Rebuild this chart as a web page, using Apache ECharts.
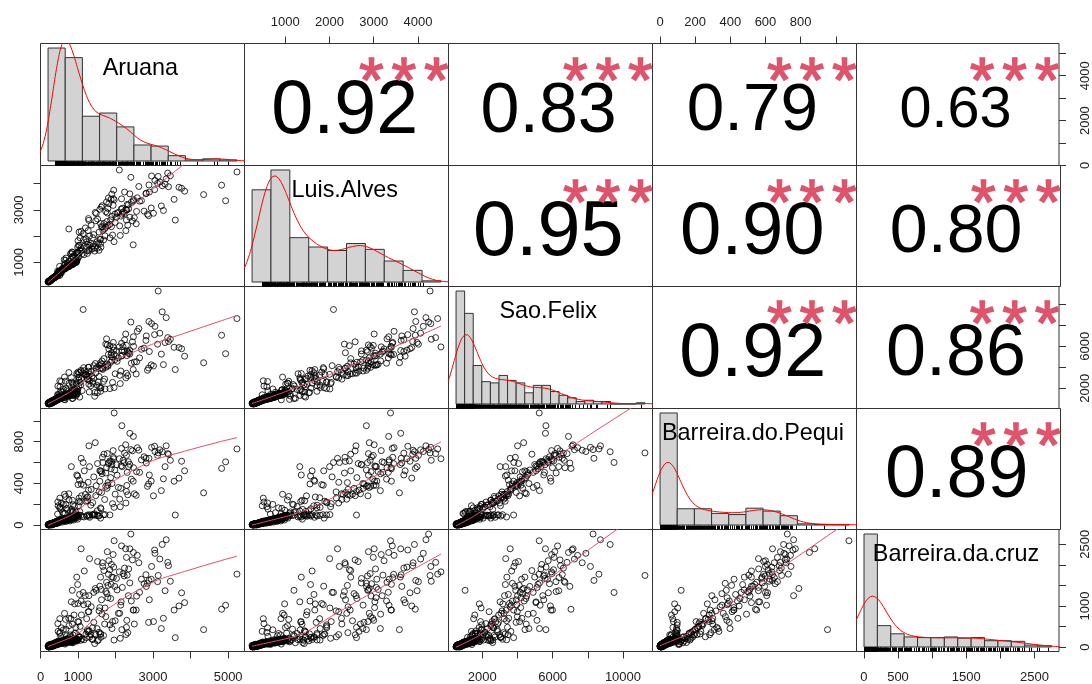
<!DOCTYPE html>
<html>
<head>
<meta charset="utf-8">
<title>Correlation matrix</title>
<script src="https://cdn.jsdelivr.net/npm/echarts@6.0.0/dist/echarts.min.js"></script>
<style>
html, body { margin: 0; padding: 0; background: #ffffff; }
#chart { width: 1092px; height: 684px; }
</style>
</head>
<body>
<div id="chart"></div>
<script>
// Station names, in matrix order
const stationNames = ['Aruana', 'Luis.Alves', 'Sao.Felix', 'Barreira.do.Pequi', 'Barreira.da.cruz'];

// Paired records: one value per station for each record (same index = same record)
const aruana = [
  201, 218, 206, 222, 209, 243, 226, 213, 251, 247,
  256, 230, 260, 252, 281, 265, 240, 289, 277, 285,
  268, 298, 291, 319, 303, 279, 327, 315, 323, 335,
  339, 330, 356, 344, 318, 365, 352, 360, 373, 348,
  368, 394, 378, 356, 403, 390, 398, 411, 386, 415,
  432, 416, 402, 440, 428, 436, 449, 424, 453, 445,
  456, 440, 478, 466, 474, 487, 461, 491, 483, 534,
  479, 546, 518, 527, 568, 495, 580, 552, 637, 586,
  648, 620, 630, 671, 603, 682, 655, 739, 688, 643,
  723, 732, 774, 701, 785, 757, 842, 791, 746, 865,
  831, 876, 808, 888, 858, 945, 894, 848, 967, 940,
  979, 910, 990, 961, 1300, 996, 951, 1450, 1290, 1310,
  1075, 1600, 1375, 1850, 1540, 1160, 1720, 1250,
  455, 654, 470, 630, 520, 846, 510, 462, 860, 702,
  798, 558, 1445, 678, 515, 1045, 870, 835, 1515, 668,
  852, 640, 1600, 1250, 1010, 1960, 822, 1056, 966, 2125,
  1262, 1210, 1920, 990, 1028, 1167, 2275, 1306, 1083, 755,
  1000, 1195, 1150, 2110, 1083, 1290, 2325, 1660, 1625, 2550,
  1473, 1650, 1460, 2290, 1800, 1770, 1278, 1620, 2880, 1740,
  2850, 2470, 1905, 1485, 1760, 3275, 1880, 1795, 1980, 1810,
  2950, 1900, 1640, 2025, 3591, 2150, 1950, 2500, 2350, 2310,
  2200, 2075, 2340, 1780, 4347, 1820, 2480, 2300, 1935, 2900,
  2270, 3220, 1940, 2820, 1136, 2475, 2100, 2168, 3690, 3040,
  2890, 3560, 1963, 3390, 4933, 3460, 3243, 4826, 3410, 2408,
  3136, 5235,
  232, 214, 258, 236, 262, 249, 273, 286, 302, 296,
  312, 334, 308, 341, 347, 362, 371, 383, 377, 392,
  408, 385, 419, 426, 438, 446, 459, 462, 470, 481,
  489, 497, 508, 522, 541, 559, 575, 593, 611, 626,
  662, 694, 709, 716, 752, 768, 797, 812, 829, 853,
  901, 918, 934, 872, 956, 985, 1020, 1110, 1560, 1395,
  1505, 1680, 1230, 1420,
  590, 540, 610, 720, 940, 905, 1610, 760, 1020, 1340,
  1090, 1390, 1230, 1040, 1580, 1560, 1710, 1350, 1990, 1420,
  1270, 1600, 1520, 2140, 1870, 1740, 1690, 2040, 1580, 2560,
  2420, 2180, 1850, 2230, 2380, 2640, 1890, 3010, 2290, 2690,
  2450, 2760, 3840, 2810, 2160, 2580, 2240, 2620, 3120, 3320,
  3050, 2380, 3760, 3350, 3180, 2960
];
const luisAlves = [
  260, 264, 251, 283, 256, 288, 279, 268, 297, 292,
  302, 288, 325, 296, 329, 318, 306, 338, 334, 348,
  333, 366, 341, 371, 360, 345, 380, 375, 389, 393,
  407, 379, 412, 401, 386, 421, 417, 430, 434, 423,
  412, 453, 449, 428, 463, 458, 472, 476, 462, 495,
  490, 486, 467, 509, 503, 527, 522, 497, 573, 514,
  564, 505, 591, 582, 609, 604, 578, 655, 596, 664,
  587, 673, 668, 691, 686, 660, 737, 678, 746, 731,
  755, 750, 773, 768, 741, 819, 760, 828, 813, 769,
  832, 855, 850, 824, 900, 842, 910, 894, 851, 928,
  937, 941, 905, 982, 923, 991, 976, 933, 1055, 1004,
  1110, 987, 1385, 1012, 1440, 1360, 1060, 1550, 1495, 1660,
  1420, 1880, 1510, 1935, 1720, 1290, 2010, 1340,
  664, 912, 480, 1099, 585, 1198, 850, 520, 1231, 925,
  1330, 602, 1429, 1165, 505, 1462, 1185, 1396, 1536, 1080,
  1380, 940, 1716, 1440, 1644, 1788, 1330, 1932, 1363, 2026,
  1680, 1896, 2040, 1572, 2156, 1608, 2208, 2004, 1560, 2272,
  1824, 2312, 1860, 2390, 2182, 2600, 2416, 2225, 2364, 2468,
  2584, 2350, 2900, 2612, 2405, 2556, 2668, 3100, 2780, 2338,
  2836, 1668, 2752, 2864, 3300, 2976, 3400, 3052, 2836, 3450,
  3070, 3600, 3156, 2724, 2611, 3026, 3750, 2700, 3040, 3208,
  2920, 2900, 3190, 2880, 3581, 3234, 3390, 3000, 3170, 3680,
  3010, 3150, 3430, 3635, 2091, 3338, 4519, 2834, 3860, 3770,
  3950, 3400, 3380, 4400, 3347, 4300, 3920, 3940, 3880, 4240,
  4273, 4445,
  271, 276, 310, 262, 311, 284, 319, 327, 352, 339,
  358, 385, 366, 396, 409, 402, 426, 440, 418, 447,
  469, 451, 481, 498, 512, 531, 548, 539, 556, 570,
  585, 612, 631, 648, 695, 702, 718, 709, 741, 760,
  786, 803, 838, 861, 873, 889, 902, 918, 948, 960,
  972, 995, 1032, 1018, 1086, 1150, 1205, 1330, 1460, 1610,
  1790, 1850, 1580, 1700,
  780, 610, 720, 990, 1120, 1270, 1580, 1050, 1350, 1720,
  1480, 1940, 1780, 1650, 1870, 2150, 2280, 2420, 2520, 2060,
  2210, 2480, 2650, 2760, 2620, 2930, 2480, 2880, 3020, 2940,
  3290, 3060, 2450, 2860, 2720, 3330, 2360, 2870, 2990, 3350,
  2580, 2950, 3710, 3620, 3420, 3460, 3680, 3890, 4010, 3980,
  4120, 3610, 3820, 4180, 4060, 4290
];
const saoFelix = [
  546, 505, 537, 512, 610, 520, 554, 618, 528, 603,
  521, 615, 572, 683, 566, 627, 692, 558, 676, 699,
  688, 651, 756, 643, 705, 764, 635, 749, 772, 675,
  724, 829, 716, 778, 837, 708, 821, 845, 748, 842,
  902, 789, 851, 910, 781, 894, 918, 826, 915, 878,
  861, 922, 983, 853, 969, 991, 898, 979, 951, 1091,
  996, 1085, 926, 1080, 1103, 967, 1096, 1046, 1194, 1034,
  1188, 1011, 1176, 1205, 1068, 1199, 1148, 1296, 1137, 1222,
  1114, 1278, 1308, 1171, 1302, 1251, 1399, 1239, 1325, 1410,
  1381, 1416, 1274, 1405, 1353, 1502, 1342, 1428, 1536, 1331,
  1530, 1376, 1508, 1456, 1824, 1445, 1572, 1860, 1433, 1816,
  1479, 1830, 1680, 2400, 1644, 1896, 2480, 1608, 2385, 2725,
  2310, 2050, 3150, 1968, 2600, 3380, 1932, 2860,
  1400, 900, 1380, 940, 2140, 1020, 1480, 2210, 1050, 1850,
  1320, 2640, 1240, 1990, 2710, 1160, 2350, 2590, 1570, 2670,
  2490, 3066, 1710, 2850, 3033, 2070, 3010, 2570, 3396, 2440,
  3165, 3297, 2560, 3310, 3045, 3668, 2990, 3330, 3710, 3500,
  3542, 3264, 3962, 3231, 3584, 4004, 3198, 3794, 3930, 3363,
  3462, 3878, 4350, 3429, 4100, 4300, 3626, 4280, 3920, 6200,
  3710, 3780, 4650, 3900, 6700, 4250, 5165, 4200, 4700, 5220,
  4230, 4980, 4600, 5562, 3780, 5055, 5624, 4500, 5330, 5540,
  5960, 4900, 5440, 6120, 4426, 5748, 5990, 5110, 5940, 5495,
  7160, 5250, 6360, 6980, 9493, 6900, 5934, 5617, 5872, 7100,
  8350, 5900, 5237, 6820, 5287, 6660, 9272, 7043, 6450, 8300,
  11251, 8632,
  538, 566, 588, 594, 640, 658, 712, 668, 602, 735,
  690, 682, 798, 785, 722, 858, 806, 762, 872, 884,
  836, 935, 928, 870, 912, 958, 905, 1025, 1058, 1120,
  1062, 1140, 1018, 1110, 1165, 1092, 1233, 1181, 1262, 1318,
  1245, 1352, 1290, 1388, 1342, 1450, 1395, 1482, 1468, 1520,
  1494, 1610, 1585, 1742, 1695, 1930, 2210, 1780, 2150, 2480,
  2290, 2650, 3050, 2920,
  1620, 1750, 1930, 1690, 1260, 1880, 2020, 2480, 2760, 2240,
  2930, 2630, 3250, 3480, 3850, 3120, 2870, 3580, 3380, 4150,
  3990, 4420, 4060, 3640, 4480, 3990, 4820, 4560, 4180, 4520,
  4380, 5120, 6050, 5480, 5260, 4890, 5380, 4120, 6080, 5710,
  6420, 5820, 5050, 6550, 6280, 7420, 6610, 7680, 6190, 6350,
  7890, 5590, 5760, 8720, 7240, 8150
];
const barreiraDoPequi = [
  0, 7, 3, 1, 6, 11, 0, 2, 8, 4,
  11, 7, 0, 10, 15, 4, 1, 12, 7, 3,
  11, 1, 14, 18, 8, 5, 16, 12, 7, 20,
  5, 18, 24, 12, 9, 21, 15, 11, 26, 19,
  23, 30, 16, 13, 27, 19, 15, 32, 25, 13,
  36, 21, 17, 33, 26, 19, 38, 31, 17, 35,
  27, 21, 39, 30, 24, 45, 37, 22, 42, 52,
  27, 46, 36, 32, 53, 44, 28, 50, 60, 39,
  54, 45, 38, 62, 53, 34, 58, 71, 47, 40,
  53, 44, 73, 61, 39, 68, 81, 55, 48, 76,
  52, 84, 72, 48, 79, 94, 65, 56, 87, 73,
  97, 83, 56, 91, 98, 76, 66, 95, 84, 74,
  93, 66, 99, 97, 87, 77, 100, 96,
  105, 110, 185, 112, 175, 120, 165, 221, 130, 160,
  135, 211, 108, 200, 258, 130, 195, 150, 138, 274,
  237, 295, 165, 232, 185, 170, 560, 221, 480, 175,
  269, 228, 205, 470, 258, 520, 211, 560, 394, 300,
  388, 295, 382, 248, 640, 760, 290, 600, 312, 285,
  282, 650, 790, 322, 407, 352, 335, 511, 394, 499,
  371, 420, 398, 377, 550, 443, 539, 382, 528, 589,
  421, 580, 492, 578, 96, 567, 636, 300, 561, 505,
  621, 360, 607, 685, 309, 600, 550, 380, 714, 480,
  770, 330, 650, 595, 600, 850, 636, 953, 450, 756,
  640, 420, 1075, 685, 606, 621, 703, 543, 678, 724,
  692, 730,
  4, 2, 9, 5, 6, 3, 13, 8, 10, 6,
  3, 14, 11, 17, 22, 13, 18, 26, 16, 24,
  28, 21, 31, 29, 24, 34, 29, 33, 41, 30,
  44, 38, 35, 47, 43, 55, 48, 57, 46, 52,
  59, 65, 49, 62, 58, 70, 66, 75, 61, 82,
  78, 88, 92, 71, 85, 90, 95, 82, 88, 97,
  93, 99, 86, 98,
  118, 152, 198, 142, 126, 178, 156, 240, 226, 190,
  280, 215, 262, 430, 520, 318, 245, 342, 296, 462,
  410, 520, 590, 352, 455, 372, 680, 478, 420, 512,
  440, 560, 615, 598, 582, 505, 610, 280, 668, 625,
  712, 655, 520, 640, 735, 742, 690, 718, 668, 560,
  705, 880, 612, 760, 722, 745
];
const barreiraDaCruz = [
  19, 2, 42, 5, 3, 20, 43, 8, 15, 37,
  11, 55, 14, 4, 35, 57, 6, 30, 51, 47,
  67, 28, 17, 53, 68, 7, 44, 63, 62, 22,
  41, 31, 60, 80, 24, 58, 75, 71, 36, 92,
  47, 76, 89, 38, 70, 86, 83, 52, 105, 68,
  87, 108, 53, 80, 97, 95, 64, 124, 79, 72,
  118, 61, 92, 114, 110, 74, 136, 90, 83, 117,
  76, 106, 130, 127, 86, 154, 104, 94, 133, 157,
  122, 146, 143, 97, 180, 121, 111, 149, 183, 100,
  168, 165, 114, 275, 138, 126, 172, 296, 118, 161,
  191, 128, 690, 158, 142, 194, 780, 134, 186, 475,
  147, 1050, 183, 164, 395, 620, 149, 322, 860, 245,
  165, 310, 190, 540, 172, 176, 950, 420,
  60, 72, 382, 126, 356, 1380, 330, 570, 104, 192,
  252, 468, 85, 434, 690, 239, 291, 110, 150, 672,
  553, 820, 330, 382, 239, 170, 1100, 502, 1700, 213,
  1050, 318, 620, 1520, 250, 1850, 304, 2150, 1120, 700,
  1060, 1250, 1030, 820, 2390, 1250, 350, 1960, 1150, 900,
  300, 2050, 1425, 480, 1500, 1300, 380, 1400, 600, 1350,
  1550, 900, 450, 1380, 1575, 700, 1525, 1200, 1475, 1770,
  1650, 1702, 800, 1668, 229, 1100, 1945, 560, 1900, 1750,
  1787, 820, 1250, 2320, 424, 2100, 900, 650, 2250, 1150,
  2390, 450, 1690, 1475, 1327, 2300, 1829, 424, 1000, 2360,
  1620, 900, 2585, 2060, 1017, 1600, 2495, 920, 1980, 2749,
  1741, 1773,
  12, 24, 31, 16, 27, 46, 9, 40, 58, 33,
  50, 64, 19, 49, 39, 56, 66, 77, 59, 81,
  94, 54, 72, 88, 99, 85, 112, 78, 102, 96,
  121, 88, 109, 128, 95, 138, 116, 142, 131, 150,
  118, 162, 137, 171, 144, 156, 188, 163, 176, 198,
  167, 184, 340, 152, 210, 178, 265, 196, 360, 185,
  450, 280, 230, 600,
  140, 260, 420, 210, 180, 330, 240, 520, 610, 300,
  780, 470, 690, 1280, 1480, 880, 560, 980, 640, 1330,
  860, 1700, 2080, 1020, 1180, 740, 1860, 1390, 960, 1240,
  1120, 1450, 1880, 1730, 1560, 1330, 2010, 620, 2180, 1650,
  2120, 1540, 1080, 1760, 2460, 2230, 1920, 2050, 1590, 1370,
  2280, 2390, 1320, 2610, 2140, 1960
];

// Upper-triangle Pearson coefficients (row, column) with significance codes
const corrPairs = [[0, 1], [0, 2], [0, 3], [0, 4], [1, 2], [1, 3], [1, 4], [2, 3], [2, 4], [3, 4]];
const corrValues = [0.92, 0.83, 0.79, 0.63, 0.95, 0.90, 0.80, 0.92, 0.86, 0.89];
const corrStars = ['***', '***', '***', '***', '***', '***', '***', '***', '***', '***'];

// Histogram bin widths per station
const binWidths = [500, 500, 500, 100, 200];

// Tick positions per station scale, and the labelled ticks on each outer edge
const tickValues = [
  [0, 1000, 2000, 3000, 4000, 5000],
  [1000, 2000, 3000, 4000],
  [2000, 4000, 6000, 8000, 10000],
  [0, 200, 400, 600, 800, 1000],
  [0, 500, 1000, 1500, 2000, 2500]
];
const topLabels = { 1: [1000, 2000, 3000, 4000], 3: [0, 200, 400, 600, 800] };
const bottomLabels = { 0: [0, 1000, 3000, 5000], 2: [2000, 6000, 10000], 4: [0, 500, 1500, 2500] };
const leftLabels = { 1: [1000, 3000], 3: [0, 400, 800] };
const rightLabels = { 0: [0, 2000, 4000], 2: [2000, 6000], 4: [0, 1000, 2500] };

// ---------------------------------------------------------------------------
const columns = [aruana, luisAlves, saoFelix, barreiraDoPequi, barreiraDaCruz];
const NV = columns.length;

// Panel edges in pixels (half-pixel positions keep the 1px frames crisp)
const COL_EDGES = [40.5, 244.5, 448.5, 652.5, 856.5, 1060.5];
const ROW_EDGES = [43.5, 165.5, 286.5, 408.5, 529.5, 651.5];
const FONT = '"Liberation Sans", Arial, Helvetica, sans-serif';
const BASE_TEXT = 80.5;          // full-size font for coefficient text
const STAR_GLYPH_H = 22.5;       // drawn height of one significance asterisk
const STAR_PITCH = 32.5;         // spacing between asterisks
const NAME_SIZE = 23.4;
const FRAME = '#333333';

// Ink box of a string drawn with centre alignment and middle baseline
const measureCtx = document.createElement('canvas').getContext('2d');
function inkBox(text, size) {
  measureCtx.font = size + 'px ' + FONT;
  measureCtx.textAlign = 'center';
  measureCtx.textBaseline = 'middle';
  const m = measureCtx.measureText(text);
  return {
    dx: (m.actualBoundingBoxRight - m.actualBoundingBoxLeft) / 2,
    dy: (m.actualBoundingBoxDescent - m.actualBoundingBoxAscent) / 2,
    up: m.actualBoundingBoxAscent,
    h: m.actualBoundingBoxAscent + m.actualBoundingBoxDescent
  };
}

function extent(v) {
  let mn = Infinity, mx = -Infinity;
  for (const x of v) { if (x < mn) mn = x; if (x > mx) mx = x; }
  return [mn, mx];
}
function padded(lo, hi) { const p = 0.04 * (hi - lo); return [lo - p, hi + p]; }
const ranges = columns.map(v => { const e = extent(v); return padded(e[0], e[1]); });

// Right-closed histogram on fixed-width breaks, as probability densities
function histogram(v, w) {
  const e = extent(v);
  const lo = Math.floor(e[0] / w) * w, hi = Math.ceil(e[1] / w) * w;
  const nb = Math.max(1, Math.round((hi - lo) / w));
  const counts = new Array(nb).fill(0);
  for (const x of v) {
    let k = Math.ceil((x - lo) / w - 1e-9) - 1;
    if (k < 0) k = 0;
    if (k > nb - 1) k = nb - 1;
    counts[k]++;
  }
  return { lo, hi, bins: counts.map((c, i) => [lo + i * w, lo + (i + 1) * w, c / (v.length * w)]) };
}

function quantile7(sorted, p) {
  const h = (sorted.length - 1) * p, i = Math.floor(h);
  const j = Math.min(i + 1, sorted.length - 1);
  return sorted[i] + (h - i) * (sorted[j] - sorted[i]);
}
// Gaussian kernel density with the nrd0 bandwidth rule
function kde(v) {
  const n = v.length;
  const mean = v.reduce((a, b) => a + b, 0) / n;
  const sd = Math.sqrt(v.reduce((a, b) => a + (b - mean) * (b - mean), 0) / (n - 1));
  const s = [...v].sort((a, b) => a - b);
  const iqr = quantile7(s, 0.75) - quantile7(s, 0.25);
  let lo = Math.min(sd, iqr / 1.34);
  if (!(lo > 0)) lo = sd || 1;
  const bw = 0.9 * lo * Math.pow(n, -0.2);
  const from = s[0] - 3 * bw, to = s[n - 1] + 3 * bw;
  const out = [];
  const norm = 1 / (n * bw * Math.sqrt(2 * Math.PI));
  for (let g = 0; g < 512; g++) {
    const x = from + (to - from) * g / 511;
    let acc = 0;
    for (let i = 0; i < n; i++) { const z = (x - v[i]) / bw; acc += Math.exp(-0.5 * z * z); }
    out.push([x, acc * norm]);
  }
  return out;
}

// Locally weighted scatterplot smoothing (span 2/3, 3 robustness passes)
function lowess(x, y, f, iter) {
  const n = x.length;
  const order = x.map((_, i) => i).sort((a, b) => x[a] - x[b]);
  const xs = order.map(i => x[i]), ys = order.map(i => y[i]);
  const ns = Math.max(2, Math.min(n, Math.floor(f * n + 1e-7)));
  const range = xs[n - 1] - xs[0];
  const fit = new Array(n).fill(0), rw = new Array(n).fill(1);
  const w = new Array(n).fill(0);
  for (let it = 0; it <= iter; it++) {
    let nleft = 0, nright = ns - 1;
    for (let i = 0; i < n; i++) {
      while (nright < n - 1 && xs[i] - xs[nleft] > xs[nright + 1] - xs[i]) { nleft++; nright++; }
      const h = Math.max(xs[i] - xs[nleft], xs[nright] - xs[i]);
      const h9 = 0.999 * h, h1 = 0.001 * h;
      let sw = 0, j = nleft;
      for (; j < n; j++) {
        w[j] = 0;
        const r = Math.abs(xs[j] - xs[i]);
        if (r <= h9) {
          w[j] = (r <= h1 ? 1 : Math.pow(1 - Math.pow(r / h, 3), 3)) * rw[j];
          sw += w[j];
        } else if (xs[j] > xs[i]) break;
      }
      const nrt = j - 1;
      if (sw <= 0) { fit[i] = ys[i]; continue; }
      for (let k = nleft; k <= nrt; k++) w[k] /= sw;
      if (h > 0) {
        let a = 0;
        for (let k = nleft; k <= nrt; k++) a += w[k] * xs[k];
        let b = xs[i] - a, c = 0;
        for (let k = nleft; k <= nrt; k++) c += w[k] * (xs[k] - a) * (xs[k] - a);
        if (Math.sqrt(c) > 0.001 * range) {
          b /= c;
          for (let k = nleft; k <= nrt; k++) w[k] *= (b * (xs[k] - a) + 1);
        }
      }
      let yv = 0;
      for (let k = nleft; k <= nrt; k++) yv += w[k] * ys[k];
      fit[i] = yv;
    }
    if (it === iter) break;
    const res = ys.map((v, i) => v - fit[i]);
    const ar = res.map(Math.abs).sort((a, b) => a - b);
    const med = n % 2 ? ar[(n - 1) / 2] : (ar[n / 2 - 1] + ar[n / 2]) / 2;
    const cmad = 6 * med;
    if (cmad < 1e-7) break;
    const c9 = 0.999 * cmad, c1 = 0.001 * cmad;
    for (let i = 0; i < n; i++) {
      const r = Math.abs(res[i]);
      rw[i] = r <= c1 ? 1 : (r <= c9 ? Math.pow(1 - (r / cmad) * (r / cmad), 2) : 0);
    }
  }
  return xs.map((v, i) => [v, fit[i]]);
}

const LABEL_STYLE = { fontSize: 13, fontFamily: FONT, color: '#222222' };
const LABEL_MARGIN = { top: 15, bottom: 19, left: 15, right: 20 };

function dataAxis(gridIndex, v, position, labels, isY) {
  const shown = !!labels;
  const ax = {
    type: 'value', gridIndex, position,
    min: ranges[v][0], max: ranges[v][1],
    show: shown,
    axisLine: { show: false, onZero: false },
    splitLine: { show: false },
    axisTick: { show: false },
    axisLabel: { show: false }
  };
  if (shown) {
    ax.axisTick = { show: true, length: 7, inside: false, lineStyle: { color: FRAME, width: 1 }, customValues: tickValues[v] };
    ax.axisLabel = Object.assign({
      show: true, customValues: labels, margin: LABEL_MARGIN[position],
      rotate: isY ? 90 : 0, formatter: val => String(val)
    }, LABEL_STYLE);
  }
  return ax;
}

// Asterisk size chosen so one glyph has the intended drawn height
const starProbe = inkBox('*', 100);
const STAR_SIZE = STAR_GLYPH_H / starProbe.h * 100;
const starBox = inkBox('*', STAR_SIZE);

const grid = [], xAxis = [], yAxis = [], series = [];

for (let r = 0; r < NV; r++) {
  for (let c = 0; c < NV; c++) {
    const gi = grid.length;
    grid.push({
      left: COL_EDGES[c], top: ROW_EDGES[r],
      width: COL_EDGES[c + 1] - COL_EDGES[c], height: ROW_EDGES[r + 1] - ROW_EDGES[r],
      show: true, borderColor: FRAME, borderWidth: 1, backgroundColor: 'rgba(0,0,0,0)'
    });

    let xPos = 'bottom', xLab = null;
    if (r === 0 && c % 2 === 1) { xPos = 'top'; xLab = topLabels[c]; }
    if (r === NV - 1 && c % 2 === 0) { xPos = 'bottom'; xLab = bottomLabels[c]; }
    let yPos = (r === c) ? 'right' : 'left', yLab = null;
    if (c === 0 && r % 2 === 1) { yPos = 'left'; yLab = leftLabels[r]; }
    if (c === NV - 1 && r % 2 === 0) { yPos = 'right'; yLab = rightLabels[r]; }

    const xi = xAxis.length; xAxis.push(dataAxis(gi, c, xPos, xLab, false));
    const yi = yAxis.length; yAxis.push(dataAxis(gi, r, yPos, yLab, true));

    if (r > c) {
      // lower triangle: scatter with smoother
      const xv = columns[c], yv = columns[r];
      series.push({
        type: 'scatter', xAxisIndex: xi, yAxisIndex: yi, silent: true, z: 2,
        data: xv.map((v, i) => [v, yv[i]]),
        symbol: 'circle', symbolSize: 6,
        itemStyle: { color: 'rgba(255,255,255,0)', borderColor: '#000000', borderWidth: 1 }
      });
      series.push({
        type: 'line', xAxisIndex: xi, yAxisIndex: yi, silent: true, z: 3, clip: true,
        data: lowess(xv, yv, 2 / 3, 3), showSymbol: false, symbol: 'none',
        lineStyle: { color: '#DF536B', width: 1 }
      });
    } else if (r === c) {
      // diagonal: histogram, density curve, rug and station name
      const v = columns[r];
      const h = histogram(v, binWidths[r]);
      const M = Math.max(...h.bins.map(b => b[2]));
      const hr = padded(h.lo, h.hi);
      const hx = xAxis.length;
      xAxis.push({ type: 'value', gridIndex: gi, position: 'top', min: hr[0], max: hr[1], show: false, axisLine: { onZero: false } });
      const hy = yAxis.length;
      yAxis.push({ type: 'value', gridIndex: gi, position: 'left', min: -0.04 * M, max: 1.04 * M, show: false, axisLine: { onZero: false } });

      series.push({
        type: 'custom', xAxisIndex: hx, yAxisIndex: hy, silent: true, z: 1, clip: true,
        data: h.bins,
        renderItem: (params, api) => {
          const p0 = api.coord([api.value(0), api.value(2)]);
          const p1 = api.coord([api.value(1), 0]);
          return {
            type: 'rect',
            shape: { x: p0[0], y: p0[1], width: p1[0] - p0[0], height: p1[1] - p0[1] },
            style: { fill: '#D3D3D3', stroke: FRAME, lineWidth: 1 }
          };
        }
      });
      series.push({
        type: 'line', xAxisIndex: hx, yAxisIndex: hy, silent: true, z: 3, clip: true,
        data: kde(v), showSymbol: false, symbol: 'none',
        lineStyle: { color: '#FF0000', width: 1 }
      });
      series.push({
        type: 'custom', xAxisIndex: hx, yAxisIndex: hy, silent: true, z: 3, clip: true,
        data: v.map(x => [x, 0]),
        renderItem: (params, api) => {
          const p = api.coord([api.value(0), 0]);
          const cs = params.coordSys;
          const bottom = cs.y + cs.height;
          const px = Math.round(p[0]) + 0.5;
          return {
            type: 'line',
            shape: { x1: px, y1: bottom, x2: px, y2: bottom - 3.8 },
            style: { stroke: '#000000', lineWidth: 1 }
          };
        }
      });
      const name = stationNames[r];
      const nb = inkBox(name, NAME_SIZE);
      series.push({
        type: 'custom', xAxisIndex: hx, yAxisIndex: hy, silent: true, z: 5,
        data: [[(hr[0] + hr[1]) / 2, M / 2]],
        renderItem: (params) => {
          const cs = params.coordSys;
          return {
            type: 'text',
            x: cs.x + cs.width / 2 - 1.6 - nb.dx,
            y: cs.y + 14.5 + nb.up,
            style: { text: name, fontSize: NAME_SIZE, fontFamily: FONT, fill: '#000000', align: 'center', verticalAlign: 'middle' }
          };
        }
      });
    } else {
      // upper triangle: coefficient sized by its magnitude, with significance code
      const k = corrPairs.findIndex(p => p[0] === r && p[1] === c);
      const rv = corrValues[k], stars = corrStars[k];
      const fs = BASE_TEXT * (Math.abs(rv) + 0.3) / 1.3;
      const txt = rv.toFixed(2);
      const tb = inkBox(txt, fs);
      series.push({
        type: 'custom', xAxisIndex: xi, yAxisIndex: yi, silent: true, z: 4, clip: true,
        data: [[(ranges[c][0] + ranges[c][1]) / 2, (ranges[r][0] + ranges[r][1]) / 2]],
        renderItem: (params) => {
          const cs = params.coordSys;
          const children = [{
            type: 'text',
            x: cs.x + cs.width / 2 - 2.3 - tb.dx,
            y: cs.y + cs.height / 2 + 2.5 - tb.dy,
            style: { text: txt, fontSize: fs, fontFamily: FONT, fill: '#000000', align: 'center', verticalAlign: 'middle' }
          }];
          const n = stars.length;
          for (let s = 0; s < n; s++) {
            children.push({
              type: 'text',
              x: cs.x + 0.8 * cs.width - 3.5 + (s - (n - 1) / 2) * STAR_PITCH - starBox.dx,
              y: cs.y + 0.2 * cs.height + 1.5 - starBox.dy,
              style: {
                text: stars[s], fontSize: STAR_SIZE, fontFamily: FONT,
                fill: '#DF536B', stroke: '#DF536B', lineWidth: 1.6,
                align: 'center', verticalAlign: 'middle'
              }
            });
          }
          return { type: 'group', children };
        }
      });
    }
  }
}

const chart = echarts.init(document.getElementById('chart'), null, { renderer: 'canvas' });
chart.setOption({
  backgroundColor: '#ffffff',
  animation: false,
  grid, xAxis, yAxis, series
});
</script>
</body>
</html>
